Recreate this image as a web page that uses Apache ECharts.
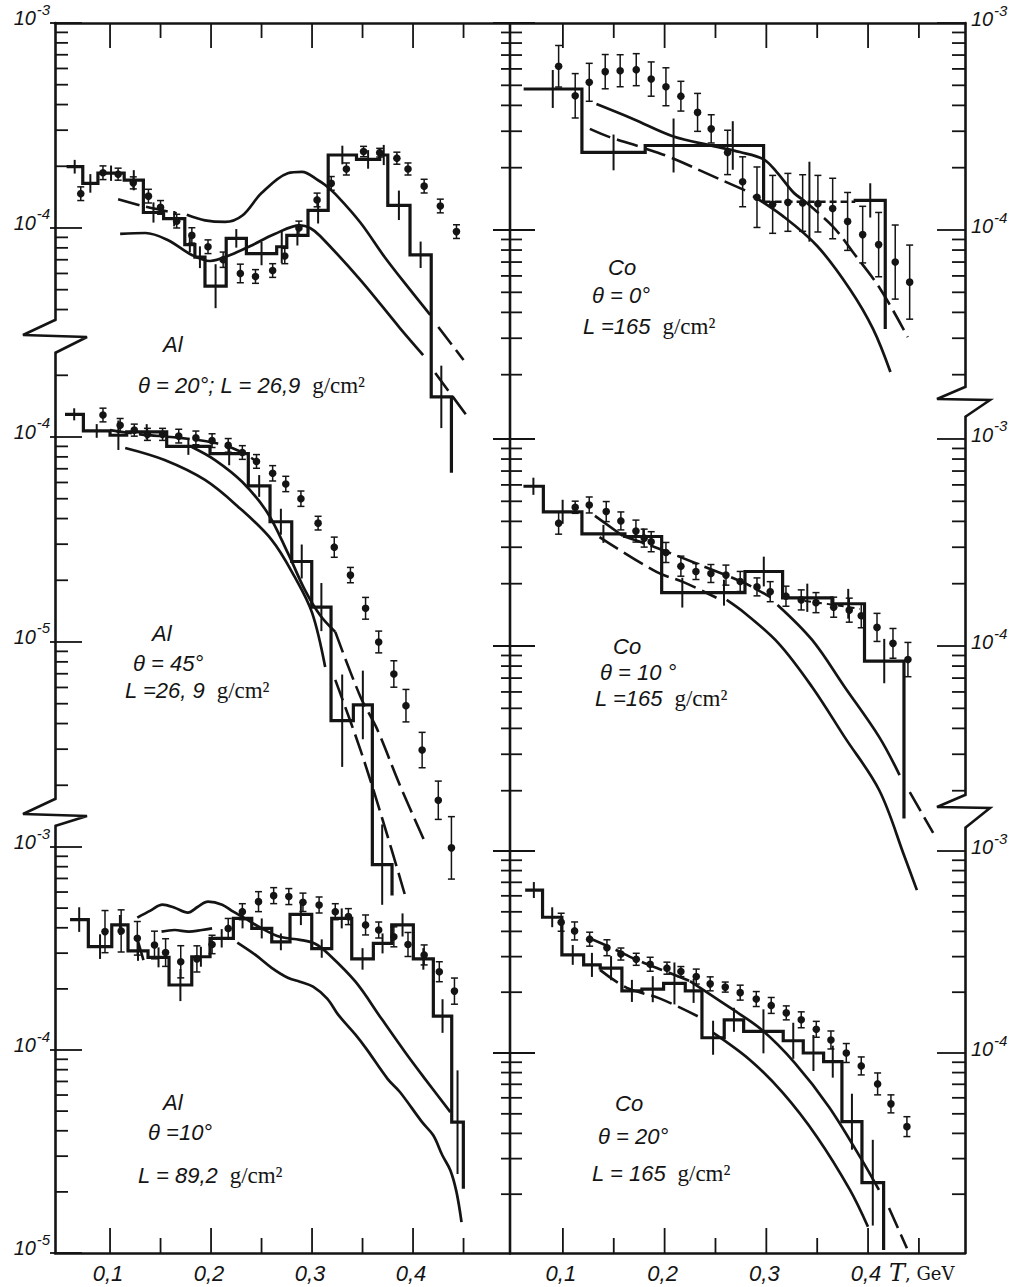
<!DOCTYPE html>
<html>
<head>
<meta charset="utf-8">
<script src="https://cdn.jsdelivr.net/npm/echarts@6/dist/echarts.min.js"></script>
<style>
  html, body { margin: 0; padding: 0; background: #fff; }
  #chart { width: 1014px; height: 1287px; }
</style>
</head>
<body>
<div id="chart"></div>
<script>
// ---------- Al, theta = 20 deg, L = 26.9 g/cm2 ----------
const tlPtsX = [0.071,0.093,0.108,0.123,0.138,0.150,0.166,0.181,0.197,0.212,0.229,0.244,0.261,0.273,0.287,0.305,0.319,0.334,0.351,0.367,0.384,0.395,0.411,0.427,0.443];
const tlPtsY = [1.47e-4,1.86e-4,1.83e-4,1.66e-4,1.43e-4,1.26e-4,1.08e-4,9.2e-5,8.1e-5,7.0e-5,6.0e-5,5.8e-5,6.2e-5,7.3e-5,1.0e-4,1.37e-4,1.65e-4,1.94e-4,2.36e-4,2.33e-4,2.19e-4,1.94e-4,1.60e-4,1.28e-4,9.6e-5];
const tlPtsErr = [0.08,0.08,0.07,0.07,0.08,0.08,0.08,0.09,0.08,0.09,0.11,0.08,0.08,0.09,0.08,0.08,0.08,0.07,0.06,0.05,0.07,0.07,0.08,0.08,0.08];
const tlHistEdges = [0.057,0.073,0.088,0.114,0.133,0.153,0.174,0.184,0.194,0.215,0.235,0.265,0.275,0.296,0.316,0.344,0.367,0.375,0.397,0.418,0.438];
const tlHistVals = [1.99e-4,1.65e-4,1.85e-4,1.71e-4,1.19e-4,1.11e-4,8.3e-5,7.2e-5,5.2e-5,8.9e-5,7.5e-5,8.1e-5,9.2e-5,1.22e-4,2.27e-4,2.16e-4,2.27e-4,1.29e-4,7.4e-5,1.5e-5];
const tlHistEnd = 6.4e-6;
const tlHistErr = [0.08,0.11,0.09,0.12,0.12,0.09,0.09,0.13,0.28,0.11,0.14,0.20,0.12,0.16,0.11,0.11,0.12,0.18,0.16,0.42];
const tlUpperX = [0.176,0.194,0.214,0.231,0.250,0.276,0.290,0.306,0.313,0.325,0.348,0.372,0.397,0.417];
const tlUpperY = [1.16e-4,1.09e-4,1.07e-4,1.15e-4,1.48e-4,1.85e-4,1.88e-4,1.71e-4,1.62e-4,1.43e-4,1.06e-4,7.2e-5,5.0e-5,3.77e-5];
const tlUpperExtX = [0.425,0.450];
const tlUpperExtY = [3.29e-5,2.27e-5];
const tlLowerX = [0.110,0.135,0.157,0.181,0.199,0.219,0.239,0.263,0.288,0.298,0.308,0.348,0.387,0.410];
const tlLowerY = [9.35e-5,9.45e-5,8.74e-5,7.38e-5,6.9e-5,7.38e-5,8.17e-5,9.35e-5,1.03e-4,1.0e-4,9.14e-5,5.57e-5,3.25e-5,2.40e-5];
const tlLowerExtX = [0.422,0.454];
const tlLowerExtY = [1.96e-5,1.20e-5];
const tlDashX = [0.108,0.135,0.166];
const tlDashY = [1.38e-4,1.27e-4,1.18e-4];

// ---------- Al, theta = 45 deg, L = 26.9 g/cm2 ----------
const mlPtsX = [0.093,0.110,0.124,0.137,0.152,0.168,0.185,0.201,0.217,0.231,0.245,0.261,0.274,0.289,0.306,0.322,0.338,0.353,0.366,0.381,0.393,0.409,0.425,0.438];
const mlPtsY = [1.28e-4,1.14e-4,1.08e-4,1.03e-4,1.03e-4,1.01e-4,9.9e-5,9.6e-5,9.1e-5,8.4e-5,7.6e-5,6.65e-5,5.9e-5,5.0e-5,3.8e-5,2.9e-5,2.12e-5,1.46e-5,1.0e-5,6.98e-6,4.89e-6,2.97e-6,1.69e-6,9.9e-7];
const mlPtsErr = [0.08,0.08,0.07,0.07,0.07,0.08,0.08,0.08,0.08,0.08,0.08,0.09,0.09,0.09,0.08,0.12,0.09,0.13,0.13,0.16,0.20,0.22,0.24,0.42];
const mlHistEdges = [0.0554,0.0736,0.100,0.1165,0.1561,0.199,0.2369,0.2584,0.2799,0.2997,0.3188,0.3409,0.3597,0.3792];
const mlHistVals = [1.29e-4,1.07e-4,1.02e-4,1.06e-4,9.0e-5,8.3e-5,5.77e-5,3.86e-5,2.47e-5,1.48e-5,4.13e-6,4.93e-6,8.2e-7];
const mlHistEnd = 5.8e-7;
const mlHistErr = [0.07,0.08,0.18,0.09,0.10,0.14,0.13,0.157,0.21,0.31,0.68,0.47,0.57];
const mlLowerX = [0.115,0.154,0.194,0.227,0.260,0.283,0.300,0.313];
const mlLowerY = [8.84e-5,7.72e-5,6.17e-5,4.56e-5,3.15e-5,2.07e-5,1.39e-5,7.55e-6];
const mlLowerExtX = [0.323,0.348,0.370,0.392];
const mlLowerExtY = [6.53e-6,2.97e-6,1.35e-6,5.83e-7];
const mlUpperX = [0.181,0.204,0.231,0.256,0.276,0.293,0.308,0.323];
const mlUpperY = [8.94e-5,7.72e-5,6.03e-5,4.26e-5,2.72e-5,1.79e-5,1.35e-5,1.12e-5];
const mlUpperExtX = [0.323,0.348,0.364,0.387,0.412];
const mlUpperExtY = [1.12e-5,5.39e-6,3.80e-6,2.0e-6,1.05e-6];
const mlDashX = [0.100,0.130,0.169,0.204,0.229,0.245];
const mlDashY = [1.08e-4,1.03e-4,9.9e-5,9.35e-5,8.5e-5,7.6e-5];

// ---------- Al, theta = 10 deg, L = 89.2 g/cm2 ----------
const blPtsX = [0.095,0.111,0.127,0.144,0.155,0.170,0.186,0.201,0.217,0.231,0.247,0.262,0.277,0.291,0.307,0.323,0.336,0.353,0.366,0.381,0.395,0.411,0.426,0.441];
const blPtsY = [3.83e-4,3.86e-4,3.55e-4,3.29e-4,3.02e-4,2.72e-4,2.81e-4,3.31e-4,3.97e-4,4.80e-4,5.38e-4,5.76e-4,5.70e-4,5.34e-4,5.18e-4,4.80e-4,4.54e-4,4.13e-4,3.90e-4,3.61e-4,3.31e-4,2.94e-4,2.43e-4,1.95e-4];
const blPtsErr = [0.27,0.27,0.21,0.17,0.17,0.20,0.16,0.11,0.12,0.095,0.12,0.095,0.095,0.11,0.095,0.095,0.095,0.12,0.095,0.12,0.146,0.12,0.12,0.16];
const blHistEdges = [0.0604,0.0785,0.1017,0.1178,0.1376,0.1584,0.1809,0.199,0.2221,0.2403,0.2601,0.2782,0.2997,0.3195,0.3393,0.3607,0.3789,0.4003,0.4201,0.4383,0.4498];
const blHistVals = [4.39e-4,3.23e-4,4.13e-4,3.08e-4,2.86e-4,2.09e-4,2.88e-4,3.55e-4,4.45e-4,3.97e-4,3.41e-4,4.66e-4,3.16e-4,4.45e-4,2.81e-4,3.35e-4,4.13e-4,2.81e-4,1.47e-4,4.41e-5];
const blHistEnd = 2.07e-5;
const blHistErr = [0.15,0.15,0.12,0.12,0.12,0.20,0.12,0.11,0.12,0.12,0.10,0.13,0.11,0.12,0.13,0.12,0.14,0.13,0.21,0.80];
const blUpperX = [0.127,0.140,0.152,0.164,0.177,0.187,0.197,0.211,0.222,0.234,0.249,0.268,0.288,0.303,0.316,0.343,0.369,0.392,0.412,0.437];
const blUpperY = [4.49e-4,4.86e-4,5.20e-4,5.02e-4,4.75e-4,5.08e-4,5.38e-4,5.20e-4,4.80e-4,4.44e-4,4.0e-4,3.61e-4,3.49e-4,3.34e-4,2.98e-4,2.17e-4,1.42e-4,9.78e-5,7.19e-5,4.94e-5];
const blLowerX = [0.226,0.244,0.260,0.276,0.288,0.301,0.315,0.326,0.343,0.354,0.375,0.387,0.409,0.420,0.429,0.437,0.443,0.448];
const blLowerY = [3.38e-4,2.94e-4,2.54e-4,2.27e-4,2.17e-4,2.05e-4,1.79e-4,1.49e-4,1.19e-4,1.01e-4,7.19e-5,6.21e-5,4.41e-5,3.80e-5,3.03e-5,2.55e-5,2.0e-5,1.42e-5];
const blWaveX = [0.151,0.164,0.178,0.191,0.201];
const blWaveY = [3.83e-4,3.90e-4,3.83e-4,3.90e-4,3.97e-4];
const blDashX = [0.127,0.135];
const blDashY = [3.53e-4,2.57e-4];

// ---------- Co, theta = 0 deg, L = 165 g/cm2 ----------
const trPtsX = [0.0958,0.1121,0.1259,0.1416,0.1563,0.1721,0.1868,0.2013,0.2160,0.2324,0.2458,0.2619,0.2767,0.2908,0.3062,0.3212,0.3357,0.3507,0.3652,0.3799,0.3947,0.4104,0.4267,0.4409];
const trPtsY = [6.18e-4,4.45e-4,5.17e-4,5.82e-4,5.88e-4,5.95e-4,5.36e-4,4.92e-4,4.43e-4,3.70e-4,3.08e-4,2.37e-4,1.71e-4,1.44e-4,1.33e-4,1.36e-4,1.35e-4,1.34e-4,1.27e-4,1.10e-4,9.5e-5,8.5e-5,7.0e-5,5.6e-5];
const trPtsErr = [0.26,0.28,0.235,0.21,0.195,0.195,0.21,0.235,0.18,0.235,0.17,0.28,0.32,0.40,0.38,0.38,0.37,0.37,0.40,0.38,0.37,0.43,0.51,0.51];
const trHistEdges = [0.0614,0.1187,0.1809,0.2367,0.2973,0.3874,0.4169];
const trHistVals = [4.80e-4,2.37e-4,2.56e-4,2.56e-4,1.37e-4,1.39e-4];
const trHistEnd = 3.32e-5;
const trHistErr = [0.235,0.22,0.35,0.31,0.56,0.21];
const trUpperX = [0.133,0.169,0.208,0.247,0.274,0.297,0.310,0.326,0.335];
const trUpperY = [4.06e-4,3.44e-4,2.84e-4,2.55e-4,2.38e-4,2.20e-4,1.91e-4,1.53e-4,1.41e-4];
const trUpperExtX = [0.335,0.365,0.385,0.412,0.439];
const trUpperExtY = [1.41e-4,1.045e-4,7.83e-5,5.19e-5,3.04e-5];
const trLowerDashX = [0.1265,0.146,0.176,0.205,0.254,0.281];
const trLowerDashY = [3.08e-4,2.81e-4,2.52e-4,2.25e-4,1.76e-4,1.54e-4];
const trLowerX = [0.287,0.316,0.350,0.382,0.405,0.422];
const trLowerY = [1.46e-4,1.17e-4,8.37e-5,5.19e-5,3.32e-5,2.06e-5];

// ---------- Co, theta = 10 deg, L = 165 g/cm2 ----------
const mrPtsX = [0.0958,0.1121,0.1259,0.1426,0.157,0.1718,0.1799,0.1868,0.2013,0.2160,0.2308,0.2455,0.2603,0.2743,0.2908,0.3038,0.3193,0.3343,0.3488,0.3662,0.3815,0.3933,0.4088,0.4245,0.4392];
const mrPtsY = [3.92e-4,4.68e-4,4.80e-4,4.46e-4,4.02e-4,3.59e-4,3.32e-4,3.19e-4,2.83e-4,2.43e-4,2.29e-4,2.24e-4,2.20e-4,2.05e-4,1.93e-4,1.83e-4,1.74e-4,1.67e-4,1.62e-4,1.54e-4,1.49e-4,1.40e-4,1.23e-4,1.03e-4,8.6e-5];
const mrPtsErr = [0.13,0.07,0.093,0.118,0.105,0.13,0.105,0.118,0.118,0.118,0.093,0.105,0.118,0.118,0.105,0.118,0.118,0.118,0.118,0.118,0.143,0.143,0.169,0.18,0.21];
const mrHistEdges = [0.0612,0.0808,0.1187,0.161,0.1971,0.2377,0.279,0.316,0.3645,0.3965,0.4353];
const mrHistVals = [5.91e-4,4.45e-4,3.48e-4,3.38e-4,1.81e-4,1.81e-4,2.29e-4,1.71e-4,1.60e-4,8.46e-5];
const mrHistEnd = 1.47e-5;
const mrHistErr = [0.10,0.143,0.105,0.093,0.18,0.155,0.18,0.17,0.18,0.28];
const mrUpperAX = [0.1315,0.159];
const mrUpperAY = [4.25e-4,3.40e-4];
const mrUpperBX = [0.311,0.345,0.377,0.411,0.431];
const mrUpperBY = [1.58e-4,1.07e-4,6.34e-5,3.63e-5,2.38e-5];
const mrUpperExtX = [0.441,0.464];
const mrUpperExtY = [1.97e-5,1.25e-5];
const mrDashX = [0.159,0.190,0.235,0.279,0.304];
const mrDashY = [3.40e-4,3.01e-4,2.46e-4,2.01e-4,1.72e-4];
const mrDotX = [0.338,0.367,0.392];
const mrDotY = [1.65e-4,1.58e-4,1.51e-4];
const mrLowerDashX = [0.136,0.192,0.218,0.251];
const mrLowerDashY = [3.36e-4,2.28e-4,2.04e-4,1.71e-4];
const mrLowerX = [0.261,0.279,0.312,0.345,0.377,0.411,0.436,0.448];
const mrLowerY = [1.67e-4,1.44e-4,1.03e-4,6.34e-5,3.63e-5,2.01e-5,9.57e-6,6.62e-6];

// ---------- Co, theta = 20 deg, L = 165 g/cm2 ----------
const brPtsX = [0.0983,0.1115,0.1263,0.1433,0.1570,0.1721,0.1858,0.2023,0.2160,0.2311,0.2448,0.2596,0.2743,0.2901,0.3048,0.3196,0.3343,0.3491,0.3635,0.3786,0.3933,0.4094,0.4225,0.4382];
const brPtsY = [4.44e-4,4.02e-4,3.66e-4,3.32e-4,3.09e-4,2.91e-4,2.75e-4,2.63e-4,2.53e-4,2.39e-4,2.20e-4,2.12e-4,1.99e-4,1.85e-4,1.72e-4,1.58e-4,1.46e-4,1.31e-4,1.16e-4,1.0e-4,8.63e-5,7.03e-5,5.60e-5,4.32e-5];
const brPtsErr = [0.108,0.108,0.083,0.095,0.071,0.071,0.083,0.071,0.059,0.089,0.083,0.059,0.089,0.089,0.095,0.083,0.095,0.095,0.108,0.114,0.108,0.133,0.108,0.12];
const brHistEdges = [0.0629,0.08,0.099,0.1204,0.1367,0.158,0.1777,0.199,0.2203,0.2367,0.2586,0.2777,0.3166,0.3363,0.3563,0.3743,0.394,0.4153];
const brHistVals = [6.41e-4,4.70e-4,3.06e-4,2.73e-4,2.63e-4,2.03e-4,2.07e-4,2.21e-4,2.03e-4,1.19e-4,1.46e-4,1.28e-4,1.15e-4,1.0e-4,9.06e-5,4.57e-5,2.28e-5];
const brHistEnd = 1.06e-5;
const brHistErr = [0.095,0.12,0.12,0.147,0.147,0.134,0.16,0.27,0.147,0.214,0.147,0.285,0.228,0.228,0.20,0.376,0.63];
const brUpperDashX = [0.1256,0.1482,0.1728,0.2023,0.2249];
const brUpperDashY = [3.71e-4,3.31e-4,2.89e-4,2.52e-4,2.27e-4];
const brUpperX = [0.2249,0.2632,0.2957,0.3281,0.3616,0.394,0.4107];
const brUpperY = [2.27e-4,1.69e-4,1.30e-4,8.92e-5,5.41e-5,2.95e-5,2.10e-5];
const brUpperExtX = [0.4206,0.4382];
const brUpperExtY = [1.71e-5,1.08e-5];
const brLowerDashX = [0.1364,0.1629,0.1944,0.2337];
const brLowerDashY = [2.58e-4,2.10e-4,1.87e-4,1.51e-4];
const brLowerX = [0.2475,0.2839,0.3163,0.3498,0.3822,0.3999];
const brLowerY = [1.26e-4,9.23e-5,6.34e-5,3.84e-5,2.10e-5,1.38e-5];

// ---------- axis labelling ----------
const xTickValues = [0.1, 0.2, 0.3, 0.4];
const xTickLabels = ['0,1', '0,2', '0,3', '0,4'];
const xMinorTicks = [0.1, 0.15, 0.2, 0.25, 0.3, 0.35, 0.4, 0.45];
const panelNotes = [
  ['Al', 'θ = 20°; L = 26,9'],
  ['Al', 'θ = 45°', 'L =26, 9'],
  ['Al', 'θ =10°', 'L = 89,2'],
  ['Co', 'θ = 0°', 'L =165'],
  ['Co', 'θ = 10 °', 'L =165'],
  ['Co', 'θ = 20°', 'L = 165']
];

// ---------- layout ----------
const INK = '#141414';
const cols = [
  { left: 55, right: 510, xMin: 0.0455, xMax: 0.496 },
  { left: 510, right: 965, xMin: 0.048, xMax: 0.4953 }
];
const panels = [
  { col: 0, row: 0, top: 23, bottom: 320, yMin: 3.557e-5, yMax: 1e-3 },
  { col: 0, row: 1, top: 353, bottom: 799, yMin: 1.714e-6, yMax: 2.569e-4 },
  { col: 0, row: 2, top: 826, bottom: 1253, yMin: 1e-5, yMax: 1.269e-3 },
  { col: 1, row: 0, top: 23, bottom: 387, yMin: 1.744e-5, yMax: 1e-3 },
  { col: 1, row: 1, top: 417, bottom: 795, yMin: 1.907e-5, yMax: 1.277e-3 },
  { col: 1, row: 2, top: 828, bottom: 1253, yMin: 1.023e-5, yMax: 1.300e-3 }
];
const SANS = 'Liberation Sans';
const RICH_LABEL = {
  b: { fontFamily: SANS, fontStyle: 'italic', fontSize: 20, fill: INK },
  e: { fontFamily: SANS, fontStyle: 'italic', fontSize: 15, fill: INK },
  x: { fontFamily: SANS, fontStyle: 'italic', fontSize: 22, fill: INK },
  t: { fontFamily: 'DejaVu Serif', fontStyle: 'italic', fontSize: 24, fill: INK },
  u: { fontFamily: 'DejaVu Serif', fontSize: 18, fill: INK }
};

// ---------- helpers ----------
const pair = (xs, ys) => xs.map((x, j) => [x, ys[j]]);
const withErr = (xs, ys, rs) => xs.map((x, j) => [x, ys[j], ys[j] / (1 + rs[j]), ys[j] * (1 + rs[j])]);
function steps(edges, vals, tail) {
  const out = [];
  vals.forEach((v, j) => { out.push([edges[j], v], [edges[j + 1], v]); });
  if (tail != null) out.push([edges[edges.length - 1], tail]);
  return out;
}
const binErr = (edges, vals, rs) => vals.map((v, j) => [(edges[j] + edges[j + 1]) / 2, v, v / (1 + rs[j]), v * (1 + rs[j])]);

const LINE_STYLES = {
  solid: { width: 2.7, type: 'solid', smooth: 0.35 },
  dash: { width: 2.6, type: [22, 7], smooth: 0.35 },
  dot: { width: 2.0, type: [6, 5], smooth: false },
  hist: { width: 3.2, type: 'solid', smooth: false },
  histDash: { width: 2.6, type: [7, 4], smooth: false }
};
const series = [];
function addLine(i, data, kind) {
  const s = LINE_STYLES[kind];
  series.push({
    type: 'line', xAxisIndex: i, yAxisIndex: i, data: data, symbol: 'none',
    smooth: s.smooth, clip: false, silent: true, animation: false, z: kind.indexOf('hist') === 0 ? 3 : 2,
    lineStyle: { color: INK, width: s.width, type: s.type, cap: 'butt', join: 'miter' }
  });
}
function addPoints(i, data) {
  series.push({
    type: 'custom', xAxisIndex: i, yAxisIndex: i, data: data, clip: false, silent: true, animation: false, z: 4,
    renderItem: function (params, api) {
      const c = api.coord([api.value(0), api.value(1)]);
      const lo = api.coord([api.value(0), api.value(2)])[1];
      const hi = api.coord([api.value(0), api.value(3)])[1];
      const st = { stroke: INK, lineWidth: 1.5 };
      return { type: 'group', children: [
        { type: 'line', shape: { x1: c[0], y1: lo, x2: c[0], y2: hi }, style: st },
        { type: 'line', shape: { x1: c[0] - 3.5, y1: lo, x2: c[0] + 3.5, y2: lo }, style: st },
        { type: 'line', shape: { x1: c[0] - 3.5, y1: hi, x2: c[0] + 3.5, y2: hi }, style: st },
        { type: 'circle', shape: { cx: c[0], cy: c[1], r: 3.8 }, style: { fill: INK } }
      ] };
    }
  });
}
function addCrosses(i, data) {
  series.push({
    type: 'custom', xAxisIndex: i, yAxisIndex: i, data: data, clip: false, silent: true, animation: false, z: 3,
    renderItem: function (params, api) {
      const x = api.coord([api.value(0), api.value(1)])[0];
      const lo = api.coord([api.value(0), api.value(2)])[1];
      const hi = api.coord([api.value(0), api.value(3)])[1];
      return { type: 'line', shape: { x1: x, y1: lo, x2: x, y2: hi }, style: { stroke: INK, lineWidth: 2 } };
    }
  });
}
// ticks and tick labels of each panel, placed through the panel's own scales
function addFrame(i) {
  const p = panels[i], col = cols[p.col];
  series.push({
    type: 'custom', xAxisIndex: i, yAxisIndex: i, data: [[0.2, p.yMax]], clip: false, silent: true, animation: false, z: 5,
    renderItem: function (params, api) {
      const cs = params.coordSys;
      const kids = [];
      const st = { stroke: INK, lineWidth: 1.8 };
      const seg = (x1, y1, x2, y2) => kids.push({ type: 'line', shape: { x1, y1, x2, y2 }, style: st });
      const text = (t, x, y, align) => kids.push({ type: 'text', x: x, y: y, style: {
        text: t, rich: RICH_LABEL, align: align, verticalAlign: 'middle', fill: INK } });
      const k0 = Math.floor(Math.log10(p.yMin)), k1 = Math.ceil(Math.log10(p.yMax));
      for (let k = k0; k <= k1; k++) {
        for (let m = 1; m <= 9; m++) {
          const v = m * Math.pow(10, k);
          if (v < p.yMin * 0.999 || v > p.yMax * 1.001) continue;
          const y = api.coord([col.xMin, v])[1];
          const major = m === 1;
          if (p.col === 0) {
            seg(cs.x - (major ? 5 : 0), y, cs.x + (major ? 27 : 13), y);
          } else {
            const xr = cs.x + cs.width;
            seg(xr - (major ? 28 : 13), y, xr, y);
            seg(cs.x - (major ? 17 : 9), y, cs.x + (major ? 25 : 12), y);
          }
          if (major) {
            // "10" with a raised exponent
            const exp = '{e|-' + String(-k) + '}';
            if (p.col === 0) {
              text(exp, cs.x - 5, y - 14, 'right');
              text('{b|10}', cs.x - 19, y - 5, 'right');
            } else {
              const x0 = cs.x + cs.width + 6;
              text('{b|10}', x0, y - 4, 'left');
              text(exp, x0 + 23, y - 13, 'left');
            }
          }
        }
      }
      if (p.row === 0 || p.row === 2) {
        xMinorTicks.forEach((v, j) => {
          const x = api.coord([v, p.yMax])[0];
          const len = j % 2 === 0 ? 25 : 15;
          if (p.row === 0) seg(x, cs.y, x, cs.y + len);
          else seg(x, cs.y + cs.height, x, cs.y + cs.height - len);
        });
      }
      if (p.row === 2) {
        xTickValues.forEach((v, j) => {
          const x = api.coord([v, p.yMax])[0];
          text('{x|' + xTickLabels[j] + '}', x - 2, cs.y + cs.height + 20, 'center');
        });
        if (p.col === 1) text('{t|T}{u|, GeV}', 889, cs.y + cs.height + 20, 'left');
      }
      return { type: 'group', children: kids };
    }
  });
}

// ---------- series per panel ----------
// Al, 20 deg
addLine(0, steps(tlHistEdges, tlHistVals, tlHistEnd), 'hist');
addCrosses(0, binErr(tlHistEdges, tlHistVals, tlHistErr));
addLine(0, pair(tlUpperX, tlUpperY), 'solid');
addLine(0, pair(tlUpperExtX, tlUpperExtY), 'dash');
addLine(0, pair(tlLowerX, tlLowerY), 'solid');
addLine(0, pair(tlLowerExtX, tlLowerExtY), 'dash');
addLine(0, pair(tlDashX, tlDashY), 'dash');
addPoints(0, withErr(tlPtsX, tlPtsY, tlPtsErr));
// Al, 45 deg
addLine(1, steps(mlHistEdges, mlHistVals, mlHistEnd), 'hist');
addCrosses(1, binErr(mlHistEdges, mlHistVals, mlHistErr));
addLine(1, pair(mlLowerX, mlLowerY), 'solid');
addLine(1, pair(mlLowerExtX, mlLowerExtY), 'dash');
addLine(1, pair(mlUpperX, mlUpperY), 'solid');
addLine(1, pair(mlUpperExtX, mlUpperExtY), 'dash');
addLine(1, pair(mlDashX, mlDashY), 'dash');
addPoints(1, withErr(mlPtsX, mlPtsY, mlPtsErr));
// Al, 10 deg
addLine(2, steps(blHistEdges, blHistVals, blHistEnd), 'hist');
addCrosses(2, binErr(blHistEdges, blHistVals, blHistErr));
addLine(2, pair(blUpperX, blUpperY), 'solid');
addLine(2, pair(blLowerX, blLowerY), 'solid');
addLine(2, pair(blWaveX, blWaveY), 'solid');
addLine(2, pair(blDashX, blDashY), 'dash');
addPoints(2, withErr(blPtsX, blPtsY, blPtsErr));
// Co, 0 deg (one bin of the histogram is drawn dashed)
addLine(3, steps(trHistEdges.slice(0, 5), trHistVals.slice(0, 4), trHistVals[4]), 'hist');
addLine(3, [[trHistEdges[4], trHistVals[4]], [trHistEdges[5], trHistVals[4]]], 'histDash');
addLine(3, [[trHistEdges[5], trHistVals[4]]].concat(steps(trHistEdges.slice(5), trHistVals.slice(5), trHistEnd)), 'hist');
addCrosses(3, binErr(trHistEdges, trHistVals, trHistErr));
addLine(3, pair(trUpperX, trUpperY), 'solid');
addLine(3, pair(trUpperExtX, trUpperExtY), 'dash');
addLine(3, pair(trLowerDashX, trLowerDashY), 'dash');
addLine(3, pair(trLowerX, trLowerY), 'solid');
addPoints(3, withErr(trPtsX, trPtsY, trPtsErr));
// Co, 10 deg
addLine(4, steps(mrHistEdges, mrHistVals, mrHistEnd), 'hist');
addCrosses(4, binErr(mrHistEdges, mrHistVals, mrHistErr));
addLine(4, pair(mrUpperAX, mrUpperAY), 'solid');
addLine(4, pair(mrUpperBX, mrUpperBY), 'solid');
addLine(4, pair(mrUpperExtX, mrUpperExtY), 'dash');
addLine(4, pair(mrDashX, mrDashY), 'dash');
addLine(4, pair(mrDotX, mrDotY), 'dot');
addLine(4, pair(mrLowerDashX, mrLowerDashY), 'dash');
addLine(4, pair(mrLowerX, mrLowerY), 'solid');
addPoints(4, withErr(mrPtsX, mrPtsY, mrPtsErr));
// Co, 20 deg
addLine(5, steps(brHistEdges, brHistVals, brHistEnd), 'hist');
addCrosses(5, binErr(brHistEdges, brHistVals, brHistErr));
addLine(5, pair(brUpperDashX, brUpperDashY), 'dash');
addLine(5, pair(brUpperX, brUpperY), 'solid');
addLine(5, pair(brUpperExtX, brUpperExtY), 'dash');
addLine(5, pair(brLowerDashX, brLowerDashY), 'dash');
addLine(5, pair(brLowerX, brLowerY), 'solid');
addPoints(5, withErr(brPtsX, brPtsY, brPtsErr));
panels.forEach((p, i) => addFrame(i));

// ---------- grids and axes ----------
const axisLine = { show: true, lineStyle: { color: INK, width: 2.6 } };
const grid = panels.map(p => ({
  left: cols[p.col].left, top: p.top, width: cols[p.col].right - cols[p.col].left, height: p.bottom - p.top,
  containLabel: false, outerBoundsMode: 'none'
}));
const xAxis = panels.map((p, i) => ({
  type: 'value', gridIndex: i, min: cols[p.col].xMin, max: cols[p.col].xMax,
  position: p.row === 0 ? 'top' : 'bottom',
  axisLine: p.row === 1 ? { show: false } : axisLine,
  axisTick: { show: false }, axisLabel: { show: false }, splitLine: { show: false }
}));
const yAxis = panels.map((p, i) => ({
  type: 'log', logBase: 10, gridIndex: i, min: p.yMin, max: p.yMax,
  position: p.col === 0 ? 'left' : 'right',
  axisLine: axisLine, axisTick: { show: false }, axisLabel: { show: false },
  splitLine: { show: false }, minorTick: { show: false }, minorSplitLine: { show: false }
}));

// ---------- frame pieces: divider, axis breaks, panel notes ----------
const graphic = [];
const lineStyle = { stroke: INK, lineWidth: 2.6, fill: null };
graphic.push({ type: 'line', shape: { x1: 510, y1: 23, x2: 510, y2: 1253 }, style: lineStyle, silent: true });
[[0, 1], [1, 2]].forEach(([a, b]) => {
  const x = cols[0].left, ya = panels[a].bottom, yb = panels[b].top;
  graphic.push({ type: 'polyline', shape: { points: [[x, ya], [x - 32, ya + 15], [x + 32, ya + 17], [x, yb]] },
    style: lineStyle, silent: true });
});
[[3, 4], [4, 5]].forEach(([a, b]) => {
  const x = cols[1].right, ya = panels[a].bottom, yb = panels[b].top;
  graphic.push({ type: 'polyline', shape: { points: [[x, ya], [x - 28, ya + 12], [x + 25, ya + 13], [x, yb]] },
    style: lineStyle, silent: true });
});
const notePos = [
  [[163, 344], [138, 385]],
  [[152, 633], [133, 663], [125, 690]],
  [[163, 1102], [148, 1132], [138, 1175]],
  [[608, 267], [592, 295], [583, 326]],
  [[613, 646], [600, 672], [595, 698]],
  [[615, 1103], [598, 1136], [592, 1173]]
];
const richNote = {
  i: { fontFamily: SANS, fontStyle: 'italic', fontSize: 22, fill: INK },
  u: { fontFamily: 'Liberation Serif', fontSize: 23, fill: INK }
};
panelNotes.forEach((lines, i) => {
  lines.forEach((t, j) => {
    const withUnit = t.indexOf('L ') >= 0 || t.indexOf('L=') >= 0;
    const txt = '{i|' + t + '}' + (withUnit ? '{u|  g/cm²}' : '');
    graphic.push({ type: 'text', x: notePos[i][j][0], y: notePos[i][j][1], silent: true,
      style: { text: txt, rich: richNote, verticalAlign: 'middle', align: 'left', fill: INK } });
  });
});

const chart = echarts.init(document.getElementById('chart'), null, { renderer: 'svg' });
chart.setOption({
  backgroundColor: '#fff',
  animation: false,
  grid: grid,
  xAxis: xAxis,
  yAxis: yAxis,
  series: series,
  graphic: graphic
});
</script>
</body>
</html>
